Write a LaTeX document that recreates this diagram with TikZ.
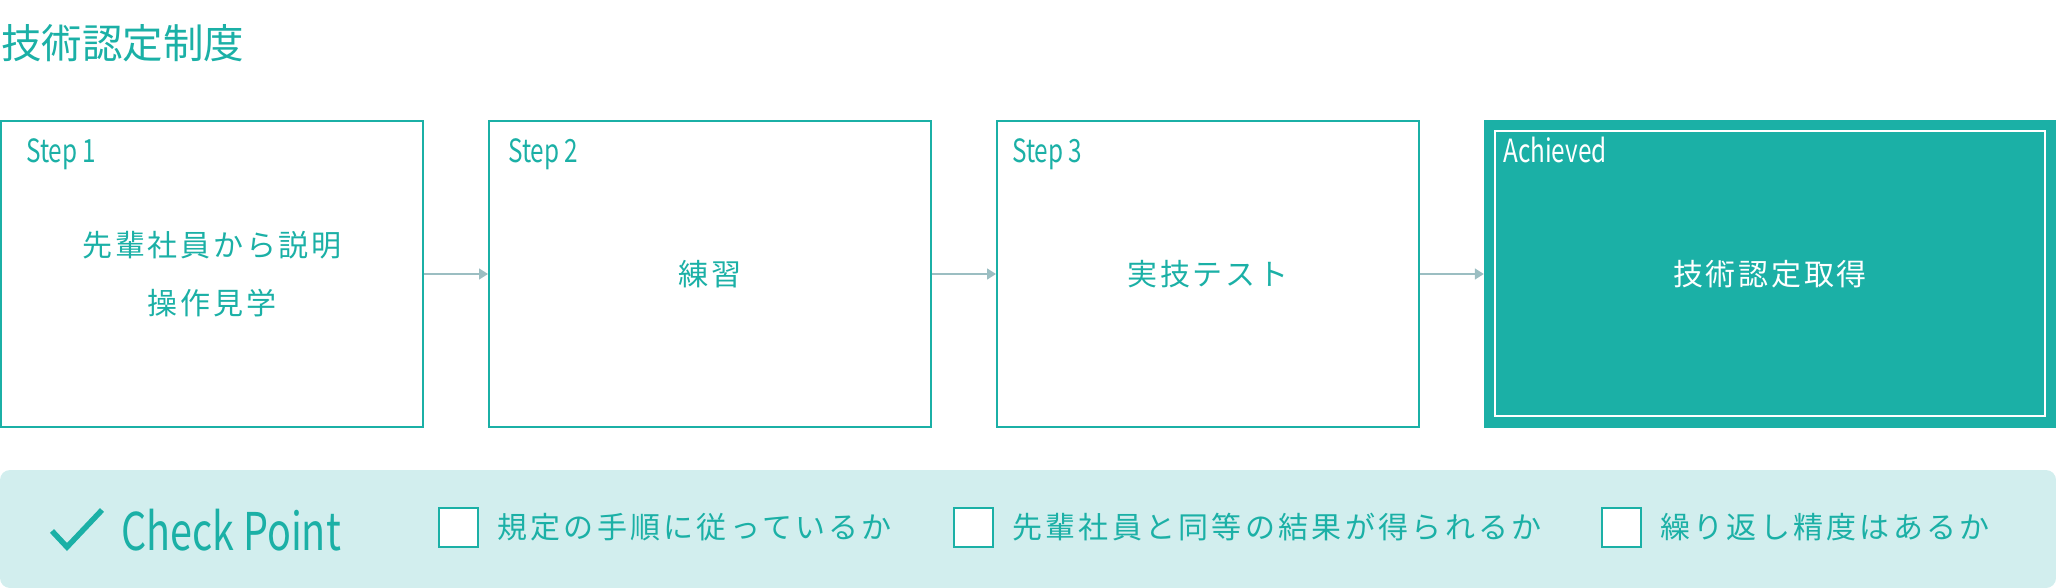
\documentclass[tikz,border=0pt]{standalone}
\usepackage{fontspec}
\setmainfont{Noto Sans CJK JP}
\newfontfamily\jpfont[LetterSpace=9]{Noto Sans CJK JP}
\newfontfamily\jpwidefont[LetterSpace=11]{Noto Sans CJK JP}
\newfontfamily\condfont[FakeStretch=0.76]{Noto Sans CJK JP}
\usepackage{tikz}
\usetikzlibrary{positioning, arrows.meta}
\definecolor{mainteal}{RGB}{27,176,166}
\definecolor{panelbg}{RGB}{210,238,238}
\definecolor{flowgray}{RGB}{155,190,194}

\begin{document}
\begin{tikzpicture}[x=1pt, y=-1pt,
    stepbox/.style={draw=mainteal, line width=2pt, minimum width=#1, minimum height=306pt, inner sep=0pt},
    steplabel/.style={anchor=base west, inner sep=0pt, text=mainteal, font=\condfont\fontsize{32}{38}\selectfont},
    steptext/.style={align=center, inner sep=0pt, text=mainteal, font=\jpfont\fontsize{30}{58}\selectfont},
    flow/.style={draw=flowgray, line width=1.5pt, -{Triangle[length=9pt, width=11pt]}},
    checkbox/.style={draw=mainteal, fill=white, line width=2pt, minimum size=39pt, inner sep=0pt},
    checktext/.style={anchor=west, inner sep=0pt, text=mainteal, font=\jpwidefont\fontsize{30}{36}\selectfont}]
        \useasboundingbox (0, 0) rectangle (2056, 588);
        % Title
        \node [anchor=base west, inner sep=0pt, text=mainteal, font=\fontsize{40.5}{48}\selectfont] (title) at (1, 59) {技術認定制度};
        % Steps
        \node [stepbox=422pt] (s1) at (212, 274) {};
        \node [stepbox=442pt] (s2) at (710, 274) {};
        \node [stepbox=422pt] (s3) at (1208, 274) {};
        \node [fill=mainteal, minimum width=572pt, minimum height=308pt, inner sep=0pt] (s4) at (1770, 274) {};
        \node [draw=white, line width=2pt, minimum width=550pt, minimum height=285pt, inner sep=0pt] (s4in) at (1770, 273.5) {};
        \node [steplabel] (l1) at (26, 163) {Step 1};
        \node [steplabel] (l2) at (508, 163) {Step 2};
        \node [steplabel] (l3) at (1012, 163) {Step 3};
        \node [steplabel, text=white] (l4) at (1503, 163) {Achieved};
        \node [steptext] (t1) at (s1.center) {先輩社員から説明\\操作見学};
        \node [steptext] (t2) at (s2.center) {練習};
        \node [steptext] (t3) at (s3.center) {実技テスト};
        \node [steptext, text=white] (t4) at (s4.center) {技術認定取得};
        % Arrows
        \draw [flow] (s1) -- (s2);
        \draw [flow] (s2) -- (s3);
        \draw [flow] (s3) -- (s4);
        % Check points
        \fill [panelbg, rounded corners=10pt] (0, 470) rectangle (2056, 588);
        \draw [mainteal, line width=5.5pt] (52, 531) -- (67, 547) -- (102, 510);
        \node [anchor=west, inner sep=0pt, text=mainteal, font=\condfont\fontsize{52}{60}\selectfont] (cp) at (121, 530) {Check Point};
        \node [checkbox] (c1) at (458.5, 527.5) {};
        \node [checktext, right=18pt of c1] (k1) {規定の手順に従っているか};
        \node [checkbox] (c2) at (973.5, 527.5) {};
        \node [checktext, right=18pt of c2] (k2) {先輩社員と同等の結果が得られるか};
        \node [checkbox] (c3) at (1621.5, 527.5) {};
        \node [checktext, right=18pt of c3] (k3) {繰り返し精度はあるか};
    \end{tikzpicture}
\end{document}
